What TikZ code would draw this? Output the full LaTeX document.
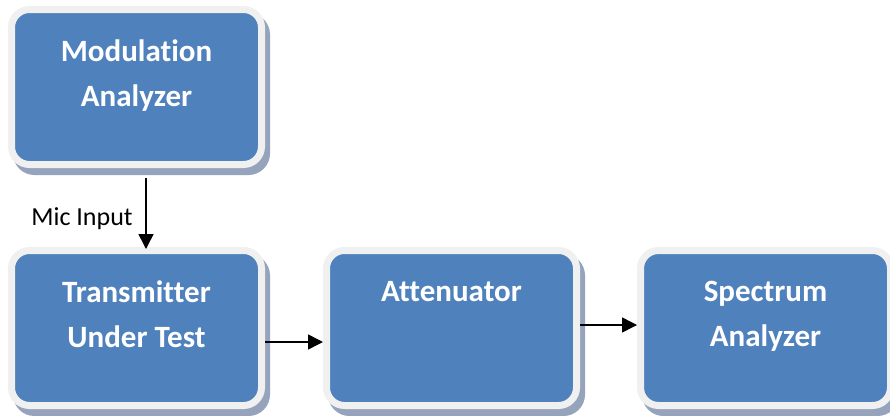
\documentclass[tikz,border=0pt]{standalone}
\usepackage{fontspec}
\setmainfont{Carlito}[Ligatures=NoCommon]
\usetikzlibrary{arrows.meta,positioning,shadows}
\definecolor{boxblue}{RGB}{79,129,189}
\definecolor{boxrim}{RGB}{240,240,240}
\definecolor{boxshade}{RGB}{150,163,188}
\tikzset{
  block/.style={draw=boxrim, line width=7pt, fill=boxblue, rounded corners=18pt,
    minimum width=250pt, minimum height=155pt, inner sep=0pt,
    drop shadow={shadow xshift=5pt, shadow yshift=-7pt, opacity=1,
      fill=boxshade, draw=boxshade, line width=7pt}},
  blocktext/.style={text=white, font=\fontsize{31}{45}\selectfont\bfseries,
    align=center, anchor=north, inner sep=0pt},
  link/.style={line width=1.5pt, -{Triangle[length=15pt,width=15pt]}},
}
\begin{document}
\begin{tikzpicture}[x=1pt,y=-1pt]
  \useasboundingbox (0,0) rectangle (890,415);
  % the four blocks
  \node[block] (mod) at (136.5,87) {};
  \node[block] (tx) at (136.5,328) {};
  \node[block, right=58pt of tx] (att) {};
  \node[block, right=57pt of att] (spec) {};
  % block titles, set near the top edge
  \node[blocktext] (modtxt) at ([yshift=-34pt]mod.north) {Modulation\\Analyzer};
  \node[blocktext] (txtxt) at ([yshift=-34pt]tx.north) {Transmitter\\Under Test};
  \node[blocktext] (atttxt) at ([yshift=-34pt]att.north) {Attenuator};
  \node[blocktext] (spectxt) at ([yshift=-34pt]spec.north) {Spectrum\\Analyzer};
  % signal path
  \draw[link] ([xshift=9.5pt,yshift=-10pt]mod.south) -- ([xshift=9.5pt,yshift=-2pt]tx.north);
  \node[font=\fontsize{26}{30}\selectfont, anchor=base] (mic) at (82,225) {Mic Input};
  \draw[link] ([yshift=-14pt]tx.east) -- ([yshift=-14pt]tx.east -| att.west);
  \draw[link] ([yshift=3pt]att.east) -- ([yshift=3pt]att.east -| spec.west);
\end{tikzpicture}
\end{document}
